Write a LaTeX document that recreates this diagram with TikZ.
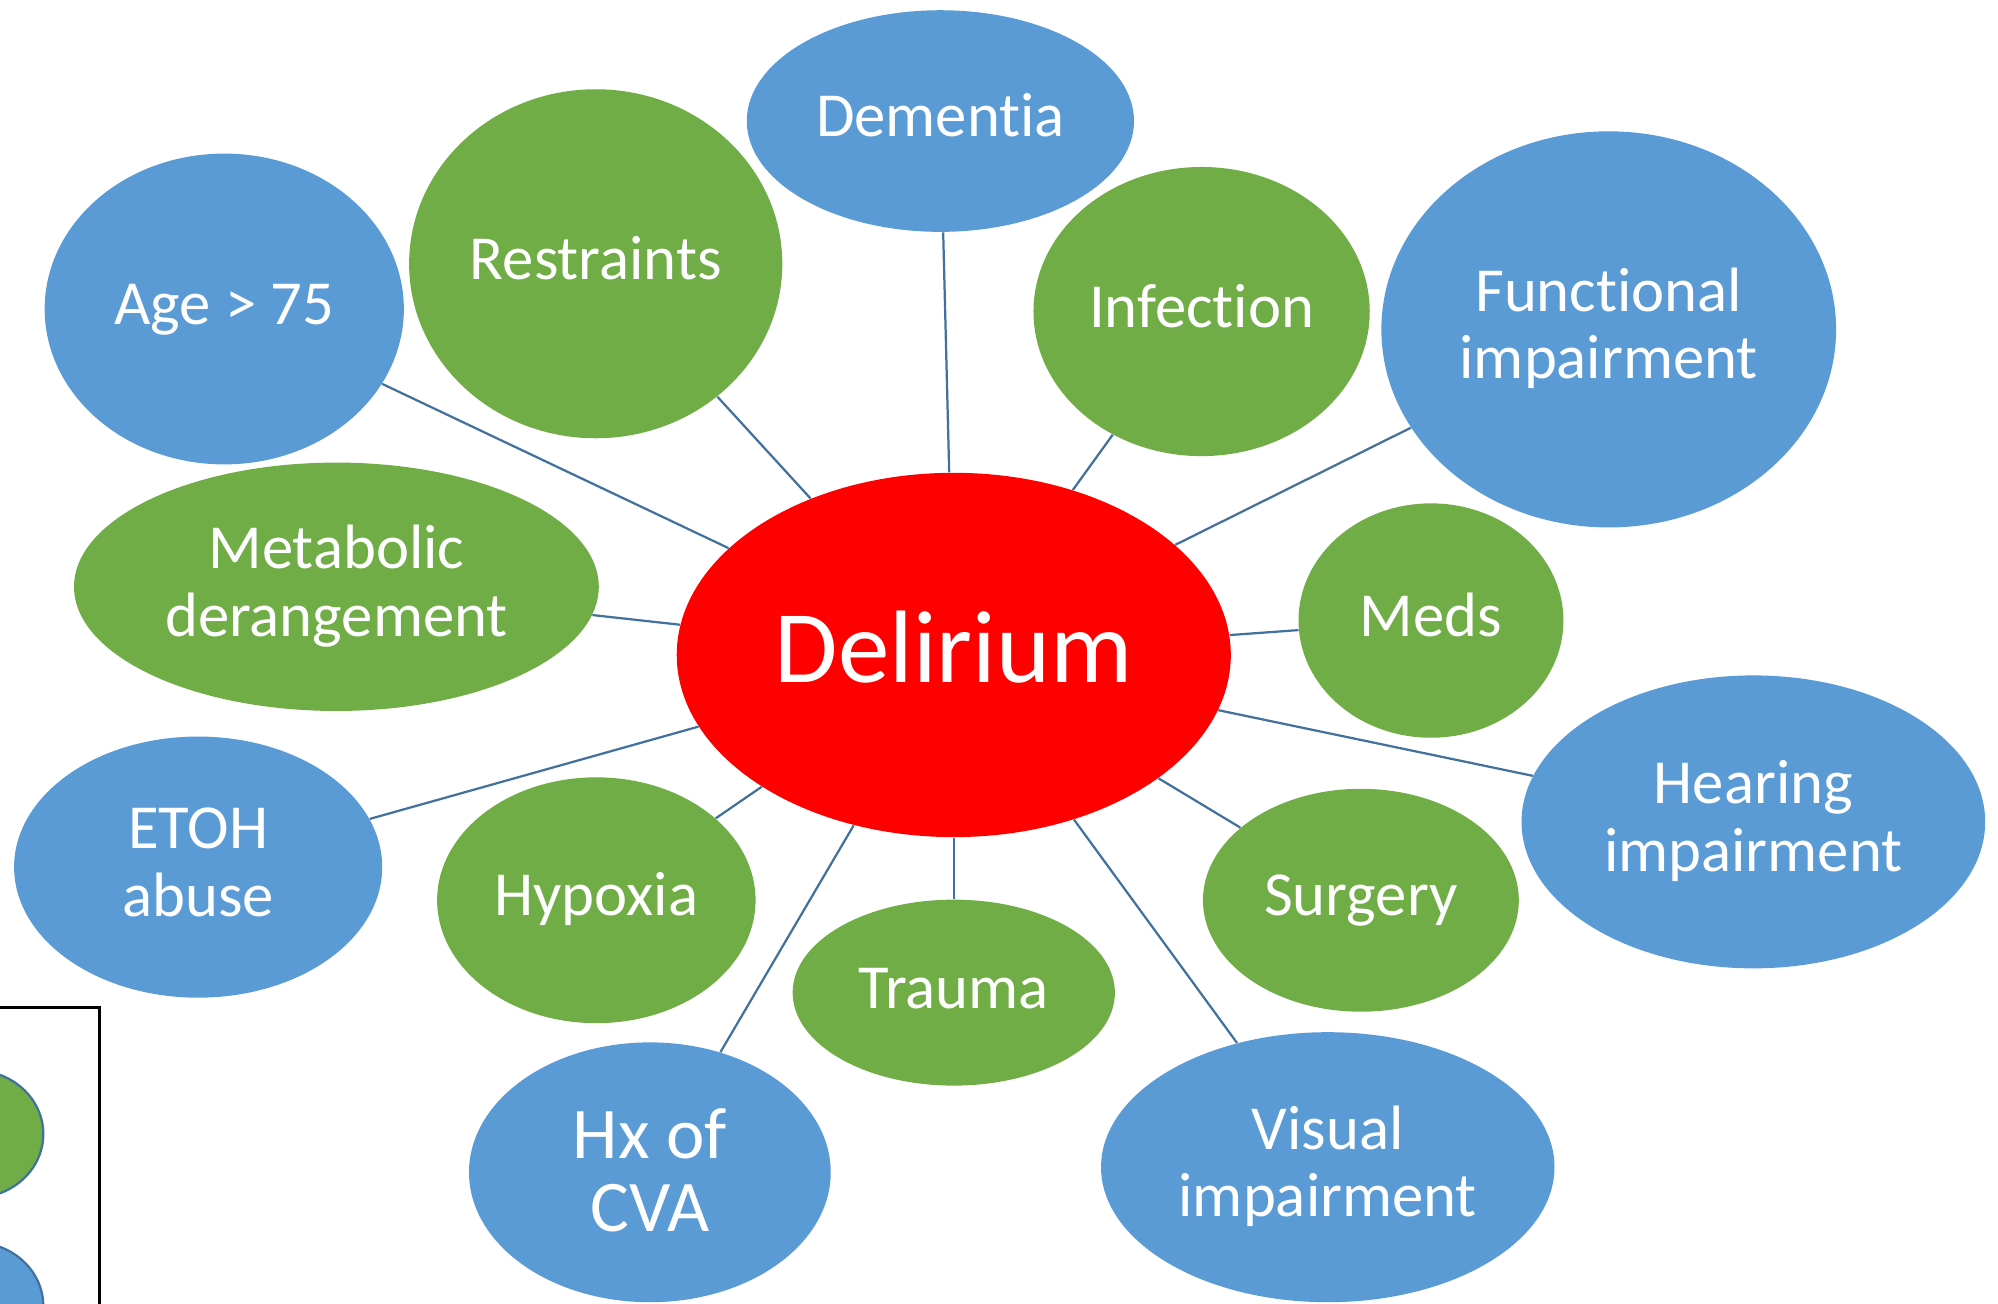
\documentclass[tikz,border=0pt]{standalone}
\usepackage{fontspec}
\setmainfont{Carlito}[Ligatures=NoCommon]
\usetikzlibrary{shapes.geometric}
\definecolor{bubbleblue}{HTML}{5B9BD5}
\definecolor{bubblegreen}{HTML}{70AD47}
\definecolor{linkblue}{HTML}{41719C}
\definecolor{corered}{HTML}{FF0000}
% labels are set in zero-height boxes so that the bubble centre is pinned
% to a fixed place relative to the baselines
\newcommand\onelinetext[2][0.25em]{\raisebox{-#1}[0pt][0pt]{#2}}
\newcommand\twolinetext[3][0.25em]{\raisebox{\dimexpr0.5\baselineskip-#1\relax}[0pt][0pt]{%
  \begin{tabular}[t]{@{}c@{}}#2\\#3\end{tabular}}}
\tikzset{
  bubble/.style n args={2}{ellipse, draw=none, inner sep=0pt, text=white,
    minimum width=#1*0.04cm, minimum height=#2*0.04cm,
    font=\fontsize{28}{30.2}\selectfont},
  bluebubble/.style={fill=bubbleblue},
  greenbubble/.style={fill=bubblegreen},
  link/.style={draw=linkblue, line width=1pt},
}
\begin{document}
\begin{tikzpicture}[x=0.02cm, y=-0.02cm]
\useasboundingbox (0,0) rectangle (1568,1023);
\clip (0,0) rectangle (1568,1023);

% outer factors
\node[bubble={152}{87}, bluebubble] (dementia) at (738,95) {\onelinetext{Dementia}};
\node[bubble={146.5}{137}, greenbubble] (restraints) at (467.5,207) {\onelinetext{Restraints}};
\node[bubble={141}{122}, bluebubble] (age) at (176,242.5) {\onelinetext{Age > 75}};
\node[bubble={132}{113.5}, greenbubble] (infection) at (943,244.5) {\onelinetext{Infection}};
\node[bubble={178.5}{155.5}, bluebubble] (functional) at (1262.5,258.5) {\twolinetext{Functional}{impairment}};
\node[bubble={206}{97.5}, greenbubble] (metabolic) at (264,460.5) {\twolinetext{Metabolic}{derangement}};
\node[bubble={104}{92}, greenbubble] (meds) at (1123,487) {\onelinetext{Meds}};
\node[bubble={144.5}{102.5}, bluebubble] (etoh) at (155.5,680.5) {\twolinetext{ETOH}{abuse}};
\node[bubble={125}{96.5}, greenbubble] (hypoxia) at (468,706.5) {\onelinetext{Hypoxia}};
\node[bubble={182}{115}, bluebubble] (hearing) at (1376,645) {\twolinetext{Hearing}{impairment}};
\node[bubble={124}{87.5}, greenbubble] (surgery) at (1068,706.5) {\onelinetext{Surgery}};
\node[bubble={126.5}{73}, greenbubble] (trauma) at (748.5,779) {\onelinetext{Trauma}};
\node[bubble={142}{102}, bluebubble, font=\fontsize{32.5}{32.6}\selectfont] (cva) at (510,920) {\twolinetext[0.31em]{Hx of}{CVA}};
\node[bubble={178}{106}, bluebubble] (visual) at (1042,916) {\twolinetext{Visual}{impairment}};

% centre
\node[bubble={217.5}{143}, fill=corered, font=\fontsize{46}{50}\selectfont] (delirium) at (748.5,514) {\onelinetext[0.27em]{Delirium}};

% spokes
\foreach \n in {dementia,restraints,age,infection,functional,metabolic,meds,etoh,hypoxia,hearing,surgery,trauma,cva,visual}
  \draw[link] (delirium) -- (\n);

% key box in the lower left corner
\node[ellipse, fill=bubblegreen, draw=linkblue, line width=1pt, inner sep=0pt,
      minimum width=108*0.02cm, minimum height=100*0.02cm] (keygreen) at (-20,890) {};
\node[ellipse, fill=bubbleblue, draw=linkblue, line width=1pt, inner sep=0pt,
      minimum width=108*0.02cm, minimum height=100*0.02cm] (keyblue) at (-20,1025) {};
\draw[line width=1.4pt, black] (-10,791) -- (78,791) -- (78,1030);
\end{tikzpicture}
\end{document}
